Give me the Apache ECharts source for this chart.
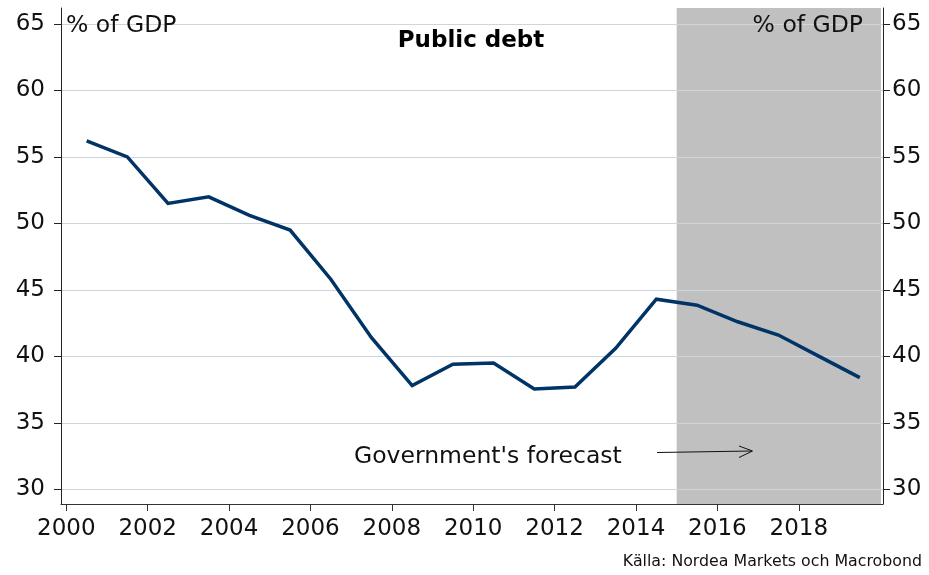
<!DOCTYPE html>
<html>
<head>
<meta charset="utf-8">
<script src="https://cdn.jsdelivr.net/npm/echarts@6/dist/echarts.min.js"></script>
<style>html,body{margin:0;padding:0;background:#fff}#c{width:929px;height:575px}</style>
</head>
<body>
<div id="c"></div>
<script>
// ---- data ----
const years = [2000.5, 2001.5, 2002.5, 2003.5, 2004.5, 2005.5, 2006.5, 2007.5, 2008.5, 2009.5,
               2010.5, 2011.5, 2012.5, 2013.5, 2014.5, 2015.5, 2016.5, 2017.5, 2018.5, 2019.5];
const debt = [56.2, 55.0, 51.5, 52.0, 50.6, 49.5, 45.8, 41.4, 37.8, 39.4,
              39.5, 37.55, 37.7, 40.6, 44.3, 43.85, 42.6, 41.6, 40.0, 38.4];
const yTicks = [30, 35, 40, 45, 50, 55, 60, 65];
const xTicks = [2000, 2002, 2004, 2006, 2008, 2010, 2012, 2014, 2016, 2018];
const forecastStart = 2015;
const xMin = 1999.87, xMax = 2020.07;
const yMin = 28.894, yMax = 66.2;

const FONT = 'DejaVu Sans';
const chart = echarts.init(document.getElementById('c'), null, {renderer: 'canvas'});

const yAxisCommon = {
  type: 'value', min: yMin, max: yMax, z: 3,
  axisLine: {show: true, lineStyle: {color: '#222', width: 1}},
  axisTick: {show: true, length: 7, inside: false, customValues: yTicks, lineStyle: {color: '#222'}},
  axisLabel: {customValues: yTicks, fontFamily: FONT, fontSize: 23, color: '#111', formatter: v => String(v)}
};

chart.setOption({
  animation: false,
  backgroundColor: '#fff',
  grid: {left: 61, right: 46, top: 8, bottom: 71, containLabel: false},
  title: {
    text: 'Public debt', left: 466, top: 25, textAlign: 'center',
    textStyle: {fontFamily: FONT, fontWeight: 'bold', fontSize: 23, color: '#000'}
  },
  xAxis: {
    type: 'value', min: xMin, max: xMax, z: 3,
    axisLine: {show: true, lineStyle: {color: '#333', width: 1}},
    axisTick: {show: true, length: 7, customValues: xTicks, lineStyle: {color: '#333'}},
    axisLabel: {customValues: xTicks, fontFamily: FONT, fontSize: 23, color: '#111', margin: 14,
                formatter: v => String(v)},
    splitLine: {show: false}
  },
  yAxis: [
    Object.assign({}, yAxisCommon, {
      position: 'left',
      axisLabel: Object.assign({}, yAxisCommon.axisLabel, {margin: 16}),
      splitLine: {show: true, lineStyle: {color: '#cdd6de', width: 1.2}}
    }),
    Object.assign({}, yAxisCommon, {
      position: 'right',
      axisLabel: Object.assign({}, yAxisCommon.axisLabel, {margin: 9}),
      splitLine: {show: false}
    })
  ],
  series: [
    {
      type: 'line', data: [], z: 1, silent: true,
      markArea: {
        silent: true,
        itemStyle: {color: '#c0c0c0'},
        data: [[{xAxis: forecastStart}, {xAxis: xMax - 0.05}]]
      }
    },
    {
      name: 'Public debt', type: 'line', z: 5,
      data: years.map((y, i) => [y, debt[i]]),
      showSymbol: false, symbol: 'none',
      lineStyle: {color: '#003466', width: 3.5, join: 'miter'},
      itemStyle: {color: '#003466'}
    }
  ],
  graphic: [
    {type: 'text', left: 66, top: 14, z: 10,
     style: {text: '% of GDP', fontFamily: FONT, fontSize: 23.5, fill: '#111'}},
    {type: 'text', right: 929 - 863, top: 14, z: 10,
     style: {text: '% of GDP', fontFamily: FONT, fontSize: 23.5, fill: '#111', textAlign: 'right'}},
    {type: 'text', left: 354, top: 445, z: 10,
     style: {text: "Government's forecast", fontFamily: FONT, fontSize: 23.5, fill: '#111'}},
    {type: 'line', z: 10, shape: {x1: 657, y1: 452.5, x2: 752, y2: 451}, style: {stroke: '#111', lineWidth: 1}},
    {type: 'polyline', z: 10, shape: {points: [[739, 446], [752.5, 451], [739, 457.5]]}, style: {stroke: '#111', lineWidth: 1, fill: null}},
    {type: 'text', right: 7, top: 554, z: 10,
     style: {text: 'Källa: Nordea Markets och Macrobond', fontFamily: FONT, fontSize: 15.8, fill: '#111', textAlign: 'right'}}
  ]
});
</script>
</body>
</html>
